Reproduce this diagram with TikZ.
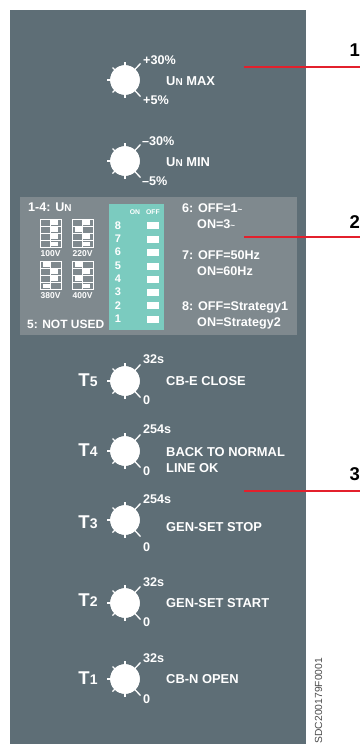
\documentclass[tikz,border=0pt]{standalone}
\usepackage{fontspec}
\setmainfont{Liberation Sans}
\usetikzlibrary{calc}
\newcommand{\fs}[1]{\fontsize{#1}{#1}\selectfont}
\newcommand{\smcap}[2]{#1{\fs{10}#2}}
\newcommand{\tld}{{\fs{8}\textasciitilde}}
\definecolor{panel}{HTML}{5E6E76}
\definecolor{inner}{HTML}{7F898E}
\definecolor{teal}{HTML}{7BCBBF}
\definecolor{redl}{HTML}{E3202C}
\tikzset{
  x=1pt,y=-1pt,
  knobface/.style={circle,fill=white,minimum size=29.5pt,inner sep=0pt},
  tick/.style={draw=white,line width=1.3pt},
  lab/.style={text=white,font=\bfseries\fs{12.9},anchor=west,inner sep=0pt},
  rng/.style={text=white,font=\bfseries\fs{12.6},anchor=west,inner sep=0pt},
  tlab/.style={text=white,font=\bfseries\fs{18.5},anchor=center,inner sep=0pt},
  sublab/.style={text=white,font=\bfseries\fs{12.6},anchor=west,inner sep=0pt},
  vlab/.style={text=white,font=\bfseries\fs{8.5},anchor=center,inner sep=0pt},
  hdr/.style={text=white,font=\bfseries\fs{6.8},anchor=center,inner sep=0pt},
  numlab/.style={text=white,font=\bfseries\fs{11},anchor=center,inner sep=0pt},
  sw/.style={fill=white,draw=none},
  callout/.style={draw=redl,line width=1.6pt},
  calllab/.style={text=black,font=\bfseries\fs{18.5},anchor=east,inner sep=0pt},
  dipgrid/.style={draw=white,line width=0.7pt},
}
% knob: name, x, y
\newcommand{\knob}[3]{
  \node[knobface] (#1) at (#2,#3) {};
  \draw[tick] ($(#1)+(0,-18)$) -- (#1.center);
  \draw[tick] ($(#1)+(0,18)$) -- (#1.center);
  \draw[tick] ($(#1)+(-18,0)$) -- (#1.center);
  \draw[tick] ($(#1)+(15.5,-16.5)$) -- (#1.center);
  \draw[tick] ($(#1)+(15.5,16.5)$) -- (#1.center);
  \draw[tick] ($(#1)+(-12.5,-12.5)$) -- (#1.center);
  \draw[tick] ($(#1)+(-12.5,12.5)$) -- (#1.center);
  \node[knobface] at (#1) {};
}
% dip box: x, y, then the white-cell x offset for each of four rows
\newcommand{\dip}[6]{
  \draw[dipgrid] (#1,#2) rectangle ++(21,28.5);
  \draw[dipgrid] (#1+10.5,#2) -- ++(0,28.5);
  \foreach \r in {1,2,3} \draw[dipgrid] (#1,#2+7.125*\r) -- ++(21,0);
  \foreach \o [count=\r from 0] in {#3,#4,#5,#6}
    \fill[white] (#1+\o,#2+7.125*\r+1.2) rectangle ++(7,4.7);
}
\begin{document}
\begin{tikzpicture}
\useasboundingbox (0,0) rectangle (360,744);
\fill[white] (0,0) rectangle (360,744);
\fill[panel] (10,10) rectangle (306,744);
\fill[inner] (20,197) rectangle (297,335);
\fill[teal] (109,204) rectangle (164,330);

% knobs
\knob{kmax}{125}{80}
\knob{kmin}{125}{161}
\knob{kfive}{125}{381}
\knob{kfour}{125}{451}
\knob{kthree}{125}{520}
\knob{ktwo}{125}{603}
\knob{kone}{125}{679}

% upper knobs' text
\node[rng] (a1) at (143,60) {+30\%};
\node[rng] (a2) at (143,100) {+5\%};
\node[lab] (a3) at (166,81) {\smcap{U}{N} MAX};
\node[rng] (b1) at (142,141) {–30\%};
\node[rng] (b2) at (142,181) {–5\%};
\node[lab] (b3) at (166,162) {\smcap{U}{N} MIN};

% timers
\node[rng] (c1) at (143,359) {32s};
\node[rng] (c2) at (143,400) {0};
\node[tlab] (c3) at (88,380) {T{\fs{14}5}};
\node[lab] (c4) at (166,381) {CB-E CLOSE};
\node[rng] (d1) at (143,429) {254s};
\node[rng] (d2) at (143,471) {0};
\node[tlab] (d3) at (88,450) {T{\fs{14}4}};
\node[lab] (d4) at (166,452) {BACK TO NORMAL};
\node[lab] (d5) at (166,468) {LINE OK};
\node[rng] (e1) at (143,499) {254s};
\node[rng] (e2) at (143,547) {0};
\node[tlab] (e3) at (88,522) {T{\fs{14}3}};
\node[lab] (e4) at (166,527) {GEN-SET STOP};
\node[rng] (f1) at (143,582) {32s};
\node[rng] (f2) at (143,622) {0};
\node[tlab] (f3) at (88,600) {T{\fs{14}2}};
\node[lab] (f4) at (166,603) {GEN-SET START};
\node[rng] (g1) at (143,658) {32s};
\node[rng] (g2) at (143,699) {0};
\node[tlab] (g3) at (88,678) {T{\fs{14}1}};
\node[lab] (g4) at (166,679) {CB-N OPEN};

% voltage block
\node[sublab] (u) at (28,207) {1-4: \smcap{U}{N}};
\dip{40}{219}{11}{11}{11}{11}
\dip{72}{219}{11}{3}{11}{11}
\dip{40}{261}{3}{11}{11}{3}
\dip{72}{261}{3}{11}{3}{11}
\node[vlab] (v1) at (50.5,254) {100V};
\node[vlab] (v2) at (82.5,254) {220V};
\node[vlab] (v3) at (50.5,296) {380V};
\node[vlab] (v4) at (82.5,296) {400V};
\node[sublab,font=\bfseries\fs{12}] (nu) at (27,324) {5: NOT USED};

% switch block
\node[hdr] (on) at (135,212) {ON};
\node[hdr] (off) at (153,212) {OFF};
\foreach \n/\y in {8/225.5,7/239,6/252,5/266,4/279,3/292,2/305.5,1/319}{
  \node[numlab] (n\n) at (118,\y) {\n};
  \fill[sw] (147,\y-3.5) rectangle (159,\y+3.5);
}

% option text
\node[sublab] (o1) at (182,208) {6: OFF=1\tld};
\node[sublab] (o2) at (197,224) {ON=3\tld};
\node[sublab] (o3) at (182,255) {7: OFF=50Hz};
\node[sublab] (o4) at (197,271) {ON=60Hz};
\node[sublab] (o5) at (182,307) {8: OFF=Strategy1};
\node[sublab] (o6) at (197,323) {ON=Strategy2};

% callouts
\coordinate (r1) at (244,67);
\coordinate (r1e) at (360,67);
\coordinate (r2) at (244,237);
\coordinate (r2e) at (360,237);
\coordinate (r3) at (244,491);
\coordinate (r3e) at (360,491);
\draw[callout] (r1) -- (r1e);
\draw[callout] (r2) -- (r2e);
\draw[callout] (r3) -- (r3e);
\node[calllab] (l1) at (360,50) {1};
\node[calllab] (l2) at (360,222) {2};
\node[calllab] (l3) at (360,474) {3};

\node[rotate=90,anchor=west,inner sep=0pt,text=black!70,font=\fs{10.3}] (code) at (318.5,743.5) {SDC200179F0001};
\end{tikzpicture}
\end{document}
